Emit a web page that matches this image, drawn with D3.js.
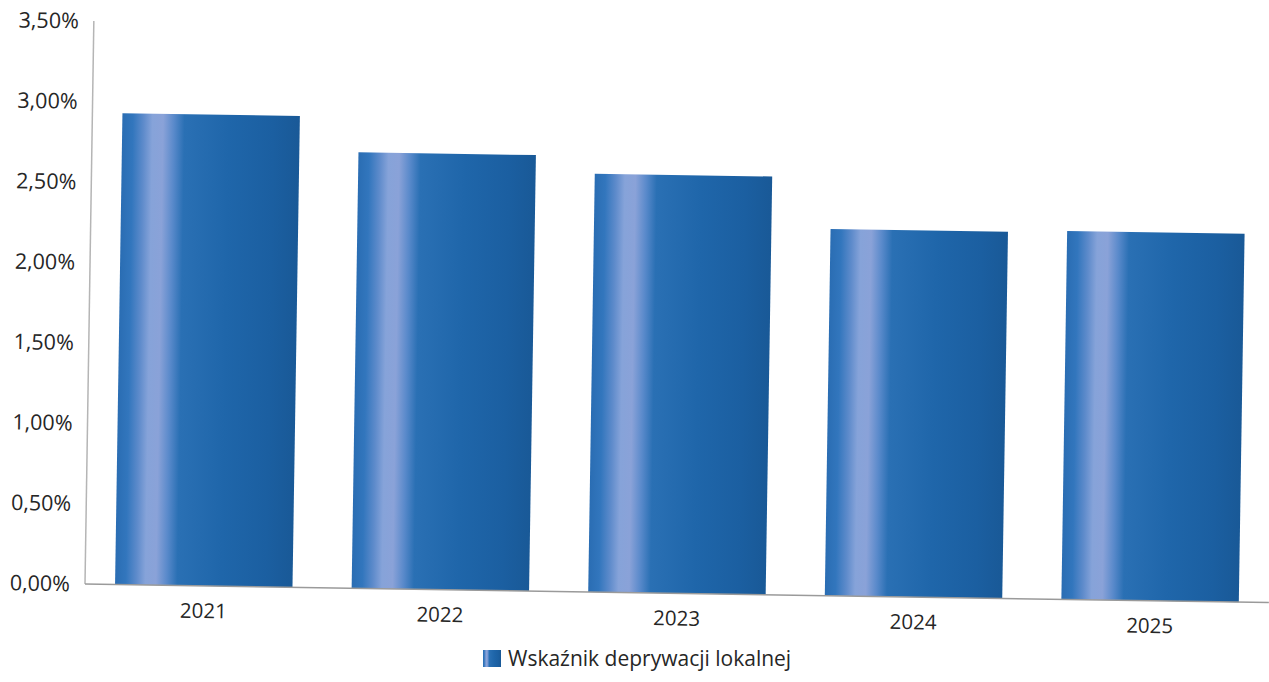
<!DOCTYPE html>
<html>
<head>
<meta charset="utf-8">
<script src="https://cdn.jsdelivr.net/npm/d3@7"></script>
<style>
  html, body { margin: 0; padding: 0; background: #fff; }
  svg { display: block; }
  text { font-family: "Open Sans", "Noto Sans", sans-serif; fill: #262626; }
</style>
</head>
<body>
<svg id="chart" width="1269" height="682"></svg>
<script>
// ---- data ----
const categories = ["2021", "2022", "2023", "2024", "2025"];
const values = [0.0293, 0.0271, 0.0260, 0.0228, 0.0229];
const seriesName = "Wskaźnik deprywacji lokalnej";
const yTicks = [0, 0.005, 0.01, 0.015, 0.02, 0.025, 0.03, 0.035];

const W = 1269, H = 682;
const svg = d3.select("#chart");

const pl = d3.formatLocale({decimal: ",", thousands: " ", grouping: [3], currency: ["", " zł"]});
const fmt = pl.format(".2%");

// gradient for bars
const defs = svg.append("defs");
const grad = defs.append("linearGradient").attr("id", "barGrad")
  .attr("x1", "0").attr("x2", "1").attr("y1", "0").attr("y2", "0");
[
  [0, "#2a6db3"], [0.06, "#3276bd"], [0.12, "#5e8bcb"], [0.17, "#86a3d9"],
  [0.23, "#8aa2d8"], [0.29, "#5a8acb"], [0.35, "#2a70b4"], [0.6, "#1f66aa"],
  [0.85, "#1b5fa1"], [1, "#195997"]
].forEach(([o, c]) => grad.append("stop").attr("offset", o).attr("stop-color", c));

// plot frame (scan is slightly rotated)
const plotW = 1184, plotH = 563;
const g = svg.append("g").attr("transform", "translate(85,584) rotate(0.9)");

const x = d3.scaleBand().domain(categories).range([0, plotW])
  .paddingInner(0.25).paddingOuter(0.127);
const y = d3.scaleLinear().domain([0, 0.035]).range([0, -plotH]);

// bars
g.selectAll("rect.bar").data(categories).join("rect")
  .attr("class", "bar")
  .attr("x", d => x(d))
  .attr("width", x.bandwidth())
  .attr("y", (d, i) => y(values[i]))
  .attr("height", (d, i) => -y(values[i]))
  .attr("fill", "url(#barGrad)");

// axes lines
g.append("line").attr("x1", 0).attr("x2", 0).attr("y1", 0).attr("y2", y(0.035))
  .attr("stroke", "#b5b5b5").attr("stroke-width", 1.5);
g.append("line").attr("x1", 0).attr("x2", plotW).attr("y1", 0).attr("y2", 0)
  .attr("stroke", "#9a9a9a").attr("stroke-width", 1.5);

// y tick labels
g.selectAll("text.ytick").data(yTicks).join("text")
  .attr("class", "ytick")
  .attr("x", -15)
  .attr("y", d => y(d))
  .attr("dy", "0.35em")
  .attr("text-anchor", "end")
  .style("font-size", "21.5px")
  .text(d => fmt(d));

// x tick labels
g.selectAll("text.xtick").data(categories).join("text")
  .attr("class", "xtick")
  .attr("x", d => x(d) + x.bandwidth() / 2)
  .attr("y", 25)
  .attr("dy", "0.35em")
  .attr("text-anchor", "middle")
  .style("font-size", "20.5px")
  .text(d => d);

// legend
const lg = svg.append("g").attr("transform", "translate(483,650)");
lg.append("rect").attr("width", 18).attr("height", 17).attr("fill", "url(#barGrad)");
lg.append("text").attr("x", 25).attr("y", 16).style("font-size", "21px").text(seriesName);
</script>
</body>
</html>
